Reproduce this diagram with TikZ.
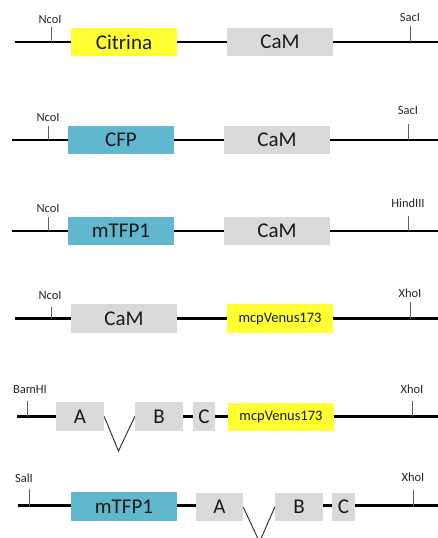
\documentclass[tikz,border=0pt]{standalone}
\usepackage{fontspec}
\setmainfont{Carlito}
\definecolor{yfp}{HTML}{FFFF33}
\definecolor{cfp}{HTML}{61B7CE}
\definecolor{cam}{HTML}{D9D9D9}
\definecolor{tickc}{HTML}{606060}
\tikzset{
  box/.style={draw=none, inner sep=0pt, minimum height=28.5pt, font=\fontsize{21}{21}\selectfont, text=black!90},
  smallbox/.style={box, font=\fontsize{14.5}{14.5}\selectfont},
  spine/.style={line width=2.6pt, black},
  ticky/.style={line width=1pt, tickc},
  site/.style={inner sep=0pt, font=\fontsize{12.5}{12.5}\selectfont, text=black!85},
  vline/.style={line width=0.9pt, black!85}
}
\begin{document}
\begin{tikzpicture}[x=1pt,y=-1pt]
\useasboundingbox (0,0) rectangle (438,538);
\clip (0,0) rectangle (438,538);
% Row 1
\node[box, fill=yfp, minimum width=106pt] (a1) at (124,42) {Citrina};
\node[box, fill=cam, minimum width=106pt] (b1) at (280,42) {CaM};
\coordinate (s1) at (15,42); \coordinate (e1) at (438,42);
\draw[spine] (s1) -- (a1.west) (a1.east) -- (b1.west) (b1.east) -- (e1);
\coordinate (t1a) at (51,42); \coordinate (t1b) at (51,27);
\draw[ticky] (t1a) -- (t1b);
\node[site] (l1a) at (50,20) {NcoI};
\coordinate (t1c) at (410,42); \coordinate (t1d) at (410,26);
\draw[ticky] (t1c) -- (t1d);
\node[site] (l1b) at (410,17) {SacI};
% Row 2
\node[box, fill=cfp, minimum width=106pt] (a2) at (121,140) {CFP};
\node[box, fill=cam, minimum width=106pt] (b2) at (277,140) {CaM};
\coordinate (s2) at (12,140); \coordinate (e2) at (438,140);
\draw[spine] (s2) -- (a2.west) (a2.east) -- (b2.west) (b2.east) -- (e2);
\coordinate (t2a) at (48,140); \coordinate (t2b) at (48,126);
\draw[ticky] (t2a) -- (t2b);
\node[site] (l2a) at (48,118) {NcoI};
\coordinate (t2c) at (408,140); \coordinate (t2d) at (408,124);
\draw[ticky] (t2c) -- (t2d);
\node[site] (l2b) at (408,110) {SacI};
% Row 3
\node[box, fill=cfp, minimum width=106pt] (a3) at (121,231) {mTFP1};
\node[box, fill=cam, minimum width=106pt] (b3) at (277,231) {CaM};
\coordinate (s3) at (12,231); \coordinate (e3) at (438,231);
\draw[spine] (s3) -- (a3.west) (a3.east) -- (b3.west) (b3.east) -- (e3);
\coordinate (t3a) at (48,231); \coordinate (t3b) at (48,217);
\draw[ticky] (t3a) -- (t3b);
\node[site] (l3a) at (48,209) {NcoI};
\coordinate (t3c) at (408,231); \coordinate (t3d) at (408,216);
\draw[ticky] (t3c) -- (t3d);
\node[site] (l3b) at (408,203) {HindIII};
% Row 4
\node[box, fill=cam, minimum width=106pt] (a4) at (124,318.5) {CaM};
\node[smallbox, fill=yfp, minimum width=106pt] (b4) at (280,318.5) {mcpVenus173};
\coordinate (s4) at (15,318.5); \coordinate (e4) at (438,318.5);
\draw[spine] (s4) -- (a4.west) (a4.east) -- (b4.west) (b4.east) -- (e4);
\coordinate (t4a) at (51,318.5); \coordinate (t4b) at (51,307);
\draw[ticky] (t4a) -- (t4b);
\node[site] (l4a) at (50,296) {NcoI};
\coordinate (t4c) at (410,318.5); \coordinate (t4d) at (410,302);
\draw[ticky] (t4c) -- (t4d);
\node[site] (l4b) at (410,293) {XhoI};
% Row 5
\node[box, fill=cam, minimum width=48pt] (a5) at (80,416.5) {A};
\node[box, fill=cam, minimum width=48pt] (b5) at (159,416.5) {B};
\node[box, fill=cam, minimum width=22pt] (c5) at (204,416.5) {C};
\node[smallbox, fill=yfp, minimum width=106pt] (d5) at (281,417) {mcpVenus173};
\coordinate (s5) at (17,416.5); \coordinate (e5) at (438,416.5);
\coordinate (v5) at (118.5,451);
\draw[spine] (s5) -- (a5.west) (b5.east) -- (c5.west) (c5.east) -- (d5.west |- s5) (d5.east |- s5) -- (e5);
\draw[vline] (a5.east) -- (v5) -- (b5.west);
\coordinate (t5a) at (27,416.5); \coordinate (t5b) at (27,401);
\draw[ticky] (t5a) -- (t5b);
\node[site] (l5a) at (30,390) {BamHI};
\coordinate (t5c) at (412,416.5); \coordinate (t5d) at (412,401);
\draw[ticky] (t5c) -- (t5d);
\node[site] (l5b) at (412,389) {XhoI};
% Row 6
\node[box, fill=cfp, minimum width=106pt] (a6) at (124,506.5) {mTFP1};
\node[box, fill=cam, minimum width=47pt] (b6) at (219.5,507) {A};
\node[box, fill=cam, minimum width=48pt] (c6) at (299,507) {B};
\node[box, fill=cam, minimum width=23pt] (d6) at (343.5,507) {C};
\coordinate (s6) at (18,505.5); \coordinate (e6) at (438,505.5);
\coordinate (v6) at (259.5,542);
\draw[spine] (s6) -- (a6.west |- s6) (a6.east |- s6) -- (b6.west |- s6) (c6.east |- s6) -- (d6.west |- s6) (d6.east |- s6) -- (e6);
\draw[vline] (b6.east) -- (v6) -- (c6.west);
\coordinate (t6a) at (29,505.5); \coordinate (t6b) at (29,489);
\draw[ticky] (t6a) -- (t6b);
\node[site] (l6a) at (24,478) {SalI};
\coordinate (t6c) at (413,505.5); \coordinate (t6d) at (413,490);
\draw[ticky] (t6c) -- (t6d);
\node[site] (l6b) at (413,477) {XhoI};
\end{tikzpicture}
\end{document}
